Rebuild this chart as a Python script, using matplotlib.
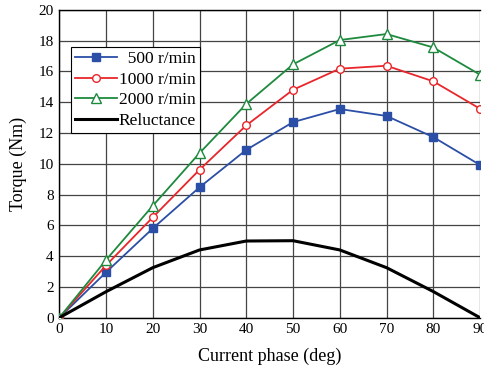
import matplotlib
matplotlib.use("Agg")
import matplotlib.pyplot as plt

# data
phase = [0, 10, 20, 30, 40, 50, 60, 70, 80, 90]
torque_500 = [0, 2.95, 5.8, 8.47, 10.9, 12.7, 13.55, 13.1, 11.73, 9.92]
torque_1000 = [0, 3.4, 6.52, 9.61, 12.49, 14.8, 16.17, 16.36, 15.35, 13.57]
torque_2000 = [0, 3.75, 7.27, 10.69, 13.88, 16.45, 18.03, 18.42, 17.55, 15.78]
reluctance = [0, 1.69, 3.25, 4.4, 4.98, 5.0, 4.4, 3.25, 1.7, 0]

labels = ["\u2007500 r/min", "1000 r/min", "2000 r/min", "Reluctance"]

plt.rcParams['font.family'] = ['Liberation Serif', 'DejaVu Serif']

fig = plt.figure(figsize=(4.85, 3.69), dpi=100)
ax = fig.add_axes([0.1223, 0.139, 0.8674, 0.8347])

ax.plot(phase, torque_500, color="#2b4ea6", lw=1.3, marker="s", ms=5.5,
        mfc="#2b4ea6", mec="#2b4ea6", label=labels[0], zorder=3)
ax.plot(phase, torque_1000, color="#e8262b", lw=1.3, marker="o", ms=5.5,
        mfc="white", mec="#e8262b", mew=1.0, label=labels[1], zorder=3)
ax.plot(phase, torque_2000, color="#1e8a3e", lw=1.3, marker="^", ms=6.5,
        mfc="white", mec="#1e8a3e", mew=1.0, label=labels[2], zorder=3)
ax.plot(phase, reluctance, color="black", lw=2.2, label=labels[3], zorder=3)

ax.set_xlim(0, 90)
ax.set_ylim(0, 20)
ax.set_xticks(range(0, 91, 10))
ax.set_yticks(range(0, 21, 2))
ax.grid(True, color="#444444", lw=0.9)
ax.set_axisbelow(True)
ax.tick_params(length=0, labelsize=11, pad=4)
for s in ax.spines.values():
    s.set_color("black")
    s.set_linewidth(1.0)
ax.spines["right"].set_visible(False)

ax.set_xlabel("Current phase (deg)", fontsize=13, labelpad=8)
ax.set_ylabel("Torque (Nm)", fontsize=13, labelpad=8)

leg = ax.legend(loc="upper left", bbox_to_anchor=(0.028, 0.88), fontsize=12.5,
                handlelength=2.4, handletextpad=0.1, borderpad=0.25,
                labelspacing=0.25, fancybox=False, framealpha=1,
                borderaxespad=0)
leg.get_frame().set_edgecolor("black")
leg.get_frame().set_linewidth(0.8)

fig.savefig("out.png", dpi=100)
